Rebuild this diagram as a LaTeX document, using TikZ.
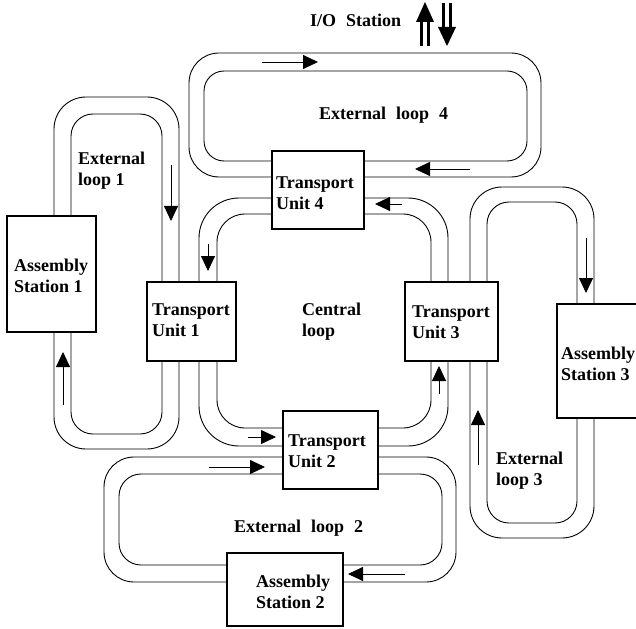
\documentclass[tikz,border=0pt]{standalone}
\usepackage{fontspec}
\setmainfont{Liberation Serif}
\usetikzlibrary{arrows.meta}
\newcommand\widesp{\spaceskip 10pt\relax}
\begin{document}
\begin{tikzpicture}[x=1pt,y=-1pt,
  track/.style={line width=0.9pt},
  unitbox/.style={draw, fill=white, line width=1.1pt, inner sep=0pt},
  lbl/.style={font=\fontsize{18}{21}\selectfont\bfseries, align=left, inner sep=0pt, anchor=west},
  flow/.style={line width=0.8pt, -{Triangle[length=15pt,width=14pt]}},
  iofill/.style={fill=black},
  ioshaft/.style={line width=2.1pt}
]
\useasboundingbox (0,0) rectangle (636,628);
\clip (0,0) rectangle (636,628);

% ---------- tracks ----------
% External loop 4
\draw[track, rounded corners=30pt] (189,53) rectangle (541,177);
\draw[track, rounded corners=20pt] (204,71) rectangle (527,161);
% External loop 1
\draw[track, rounded corners=32pt] (54,97) rectangle (179,449);
\draw[track, rounded corners=22pt] (71,114) rectangle (162,434);
% External loop 3
\draw[track, rounded corners=32pt] (470,187) rectangle (594,538);
\draw[track, rounded corners=22pt] (487,202) rectangle (577,523);
% External loop 2
\draw[track, rounded corners=30pt] (104,457) rectangle (456,582);
\draw[track, rounded corners=22pt] (119,474) rectangle (442,565);
% Central loop
\draw[track, rounded corners=40pt] (199,198) rectangle (448,446);
\draw[track, rounded corners=28pt] (217,214) rectangle (431,428);

% ---------- boxes ----------
\node[unitbox, minimum width=92pt, minimum height=78pt] (tu4) at (318,190) {};
\node[unitbox, minimum width=89pt, minimum height=79pt] (tu1) at (191.5,321.5) {};
\node[unitbox, minimum width=93pt, minimum height=79pt] (tu3) at (451.5,321.5) {};
\node[unitbox, minimum width=95pt, minimum height=78pt] (tu2) at (330.5,450) {};
\node[unitbox, minimum width=89pt, minimum height=116pt] (as1) at (51.5,274) {};
\node[unitbox, minimum width=116pt, minimum height=73pt] (as2) at (285,589.5) {};
\node[unitbox, minimum width=103pt, minimum height=114pt] (as3) at (608.5,361) {};

% ---------- labels ----------
\node[lbl] (lio) at (310,20) {\widesp I/O Station};
\node[lbl] (lext4) at (319,115) {\widesp External loop 4};
\node[lbl] (lext1) at (78,170.5) {External\\loop 1};
\node[lbl] (las1) at (14,276) {Assembly\\Station 1};
\node[lbl] (ltu1) at (152,320.5) {Transport\\Unit 1};
\node[lbl] (ltu4) at (276,193) {Transport\\Unit 4};
\node[lbl] (lcen) at (302,322) {Central\\loop};
\node[lbl] (ltu3) at (412,322) {Transport\\Unit 3};
\node[lbl] (las3) at (561,363.5) {Assembly\\Station 3};
\node[lbl] (ltu2) at (288,451) {Transport\\Unit 2};
\node[lbl] (lext3) at (496,471) {External\\loop 3};
\node[lbl] (lext2) at (234,528) {\widesp External loop 2};
\node[lbl] (las2) at (256,592) {Assembly\\Station 2};

% ---------- flow arrows ----------
\draw[flow] (262,62) -- (318,62);
\draw[flow] (470,169) -- (415,169);
\draw[flow] (402,204) -- (375,204);
\draw[flow] (208,244) -- (208,271);
\draw[flow] (171,165) -- (171,221);
\draw[flow] (63,405) -- (63,352);
\draw[flow] (248,437) -- (276,437);
\draw[flow] (209,467) -- (265,467);
\draw[flow] (405,574) -- (348,574);
\draw[flow] (439,394) -- (439,366);
\draw[flow] (478,465) -- (478,410);
\draw[flow] (586,238) -- (586,293);

% ---------- I/O arrows ----------
\draw[ioshaft] (421.5,20) -- (421.5,46) (428.5,20) -- (428.5,46);
\fill[iofill] (416,22) -- (434,22) -- (425,2) -- cycle;
\draw[ioshaft] (443.5,3) -- (443.5,29) (450.5,3) -- (450.5,29);
\fill[iofill] (438,27) -- (456,27) -- (447,46) -- cycle;
\end{tikzpicture}
\end{document}
